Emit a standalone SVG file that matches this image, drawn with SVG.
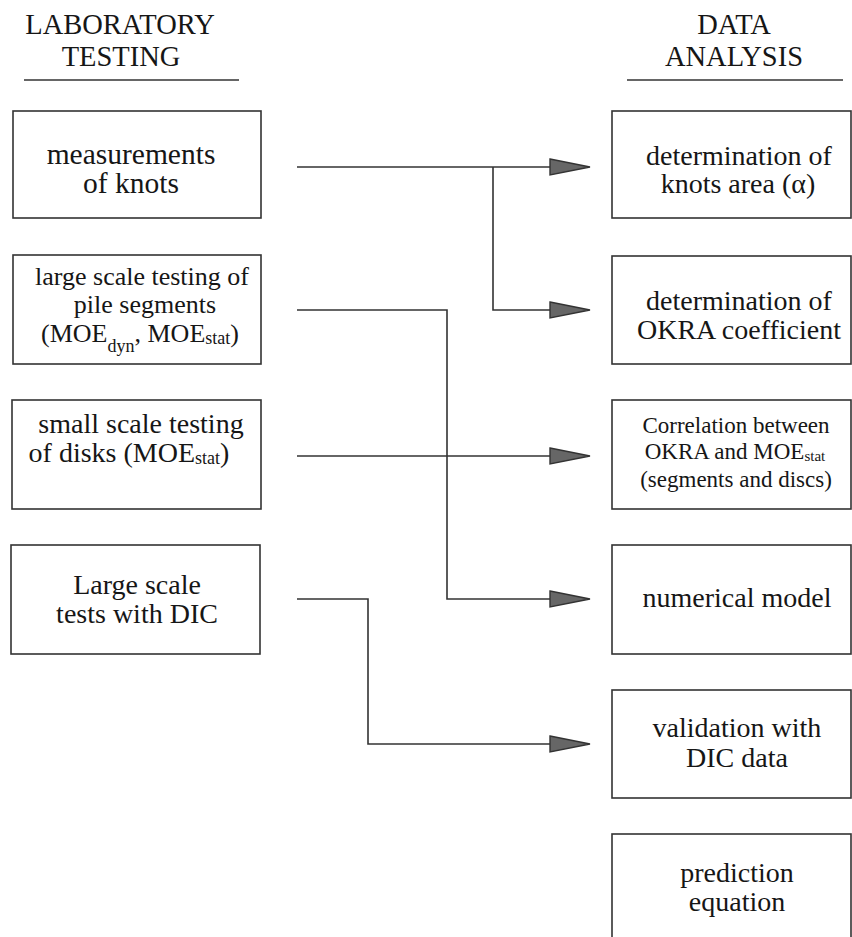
<svg xmlns="http://www.w3.org/2000/svg" width="852" height="937" viewBox="0 0 852 937" font-family="Liberation Serif, Times New Roman, serif">
<style>
  .box { fill: #ffffff; stroke: #333333; stroke-width: 1.6; }
  .t { font-size: 28px; fill: #161616; text-anchor: middle; }
  .sub { font-size: 18px; }
  .ln { fill: none; stroke: #333333; stroke-width: 1.6; }
  .ah { fill: #666666; stroke: #333333; stroke-width: 1.4; stroke-linejoin: miter; }
</style>
<rect width="852" height="937" fill="#ffffff"/>

<g id="header-lab" font-family="Liberation Serif">
  <text class="t" x="120" y="34" style="font-size:28.5px">LABORATORY</text>
  <text class="t" x="121" y="66" style="font-size:28.5px">TESTING</text>
  <line class="ln" x1="24" y1="80" x2="239" y2="80"/>
</g>
<g id="header-data" font-family="Liberation Serif">
  <text class="t" x="734" y="34" style="font-size:28.5px">DATA</text>
  <text class="t" x="734" y="66" style="font-size:28.5px">ANALYSIS</text>
  <line class="ln" x1="627" y1="80" x2="843" y2="80"/>
</g>

<g id="n-knots" font-family="Liberation Serif">
  <rect class="box" x="13" y="111" width="248" height="107"/>
  <text class="t" x="131" y="164" style="font-size:29.5px">measurements</text>
  <text class="t" x="131" y="193" style="font-size:29.5px">of knots</text>
</g>
<g id="n-large" font-family="Liberation Serif">
  <rect class="box" x="13" y="255" width="248" height="109"/>
  <text class="t" x="142" y="285" style="font-size:26px">large scale testing of</text>
  <text class="t" x="145" y="313" style="font-size:26px">pile segments</text>
  <text class="t" x="140" y="342" style="font-size:26px">(MOE<tspan class="sub" dy="10">dyn</tspan><tspan dy="-10">, MOE</tspan><tspan class="sub" dy="2">stat</tspan><tspan dy="-2">)</tspan></text>
</g>
<g id="n-small" font-family="Liberation Serif">
  <rect class="box" x="12" y="400" width="249" height="109"/>
  <text class="t" x="141" y="433">small scale testing</text>
  <text class="t" x="129" y="462">of disks (MOE<tspan class="sub" dy="2">stat</tspan><tspan dy="-2">)</tspan></text>
</g>
<g id="n-dic" font-family="Liberation Serif">
  <rect class="box" x="11" y="545" width="249" height="109"/>
  <text class="t" x="137" y="594">Large scale</text>
  <text class="t" x="137" y="623">tests with DIC</text>
</g>

<g id="n-area" font-family="Liberation Serif">
  <rect class="box" x="612" y="111" width="239" height="107"/>
  <text class="t" x="739" y="165">determination of</text>
  <text class="t" x="738" y="193">knots area (α)</text>
</g>
<g id="n-okra" font-family="Liberation Serif">
  <rect class="box" x="612" y="256" width="239" height="108"/>
  <text class="t" x="739" y="310">determination of</text>
  <text class="t" x="739" y="339">OKRA coefficient</text>
</g>
<g id="n-corr" font-family="Liberation Serif">
  <rect class="box" x="612" y="400" width="239" height="109"/>
  <text class="t" x="736" y="433" style="font-size:23px">Correlation between</text>
  <text class="t" x="735" y="459" style="font-size:23px">OKRA and MOE<tspan style="font-size:15px" dy="2">stat</tspan></text>
  <text class="t" x="736" y="487" style="font-size:23px">(segments and discs)</text>
</g>
<g id="n-num" font-family="Liberation Serif">
  <rect class="box" x="612" y="545" width="239" height="109"/>
  <text class="t" x="737" y="607">numerical model</text>
</g>
<g id="n-valid" font-family="Liberation Serif">
  <rect class="box" x="612" y="690" width="239" height="108"/>
  <text class="t" x="737" y="737">validation with</text>
  <text class="t" x="737" y="767">DIC data</text>
</g>
<g id="n-pred" font-family="Liberation Serif">
  <rect class="box" x="612" y="834" width="239" height="130"/>
  <text class="t" x="737" y="882">prediction</text>
  <text class="t" x="737" y="911">equation</text>
</g>

<g id="connectors">
  <polyline class="ln" points="297,167 550,167"/>
  <polyline class="ln" points="493,167 493,310 550,310"/>
  <polyline class="ln" points="297,310 447,310 447,599 550,599"/>
  <polyline class="ln" points="297,456 550,456"/>
  <polyline class="ln" points="297,599 368,599 368,744 550,744"/>
  <polygon class="ah" points="550,159 590,167 550,175"/>
  <polygon class="ah" points="550,302 590,310 550,318"/>
  <polygon class="ah" points="550,448 590,456 550,464"/>
  <polygon class="ah" points="550,591 590,599 550,607"/>
  <polygon class="ah" points="550,736 590,744 550,752"/>
</g>
</svg>
